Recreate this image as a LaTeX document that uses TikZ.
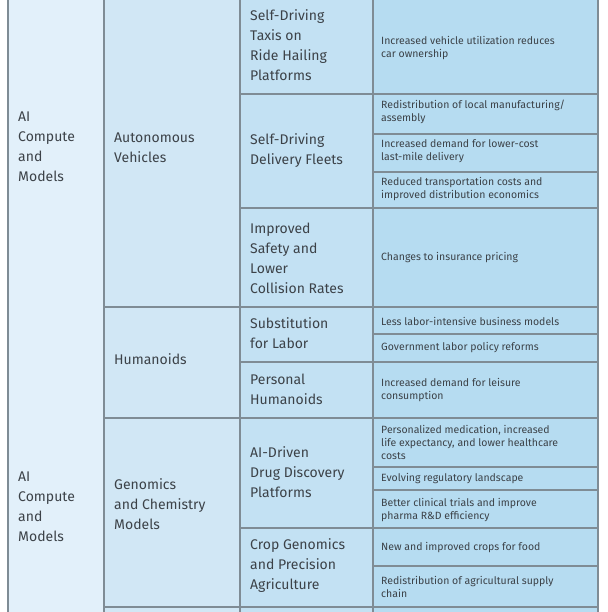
\documentclass[tikz,border=0pt]{standalone}
\usepackage{fontspec}
\setmainfont{Fira Sans}
\usetikzlibrary{positioning}
\definecolor{colA}{HTML}{E2F0FA}
\definecolor{colB}{HTML}{D1E7F5}
\definecolor{colC}{HTML}{C3E1F3}
\definecolor{colD}{HTML}{B6DCF1}
\definecolor{rule}{HTML}{7F8C95}
\definecolor{ink}{HTML}{3C4248}

\begin{document}
\begin{tikzpicture}[
    x=1pt, y=-1pt,
    cell/.style={draw=rule, line width=1.2pt},
    big/.style={anchor=west, align=left, text=ink, font=\fontsize{14}{20}\selectfont, inner sep=0pt},
    small/.style={anchor=west, align=left, text=ink, font=\fontsize{10.5}{13}\selectfont, inner sep=0pt}
]
\useasboundingbox (0,0) rectangle (607,612);

% columns
\fill[colA] (8,-2) rectangle (104,614);
\draw[cell] (8,-2) -- (8,614);
\fill[colB] (104,-2) rectangle (240,614);
\fill[colC] (240,-2) rectangle (373,614);
\fill[colD] (373,-2) rectangle (598,614);
\draw[cell] (104,-2) -- (104,614);
\draw[cell] (240,-2) -- (240,614);
\draw[cell] (373,-2) -- (373,614);
\draw[cell] (598,-2) -- (598,614);

% row rules, second column
\foreach \y in {307,418,607} \draw[cell] (104,\y) -- (598,\y);
% row rules, third column
\foreach \y in {94,208,362,528} \draw[cell] (240,\y) -- (598,\y);
% row rules, fourth column
\foreach \y in {134,172,334,467,490,566} \draw[cell] (373,\y) -- (598,\y);

% first column
\node[big] (aitop) at (18,147) {AI\\Compute\\and\\Models};
\node[big] (aibot) at (18,507) {AI\\Compute\\and\\Models};

% second column
\node[big] (autonomous) at (114,148) {Autonomous\\Vehicles};
\node[big] (humanoids) at (114,359) {Humanoids};
\node[big] (genomics) at (114,504) {Genomics\\and Chemistry\\Models};

% third column
\node[big] (taxis) at (250,45) {Self-Driving\\Taxis on\\Ride Hailing\\Platforms};
\node[big] (fleets) at (250,151) {Self-Driving\\Delivery Fleets};
\node[big] (safety) at (250,258) {Improved\\Safety and\\Lower\\Collision Rates};
\node[big] (labor) at (250,333) {Substitution\\for Labor};
\node[big] (personal) at (250,389) {Personal\\Humanoids};
\node[big] (drug) at (250,472) {AI-Driven\\Drug Discovery\\Platforms};
\node[big] (crop) at (250,566) {Crop Genomics\\and Precision\\Agriculture};

% fourth column
\node[small] (utilization) at (381,48) {Increased vehicle utilization reduces\\car ownership};
\node[small] (manufacturing) at (381,112) {Redistribution of local manufacturing/\\assembly};
\node[small] (lastmile) at (381,151) {Increased demand for lower-cost\\last-mile delivery};
\node[small] (transport) at (381,189) {Reduced transportation costs and\\improved distribution economics};
\node[small] (insurance) at (381,258) {Changes to insurance pricing};
\node[small] (business) at (381,321) {Less labor-intensive business models};
\node[small] (policy) at (381,348) {Government labor policy reforms};
\node[small] (leisure) at (381,390) {Increased demand for leisure\\consumption};
\node[small] (medication) at (381,442) {Personalized medication, increased\\life expectancy, and lower healthcare\\costs};
\node[small] (regulatory) at (381,479) {Evolving regulatory landscape};
\node[small] (trials) at (381,510) {Better clinical trials and improve\\pharma R\&D efficiency};
\node[small] (food) at (381,548) {New and improved crops for food};
\node[small] (supply) at (381,587) {Redistribution of agricultural supply\\chain};
\end{tikzpicture}
\end{document}
